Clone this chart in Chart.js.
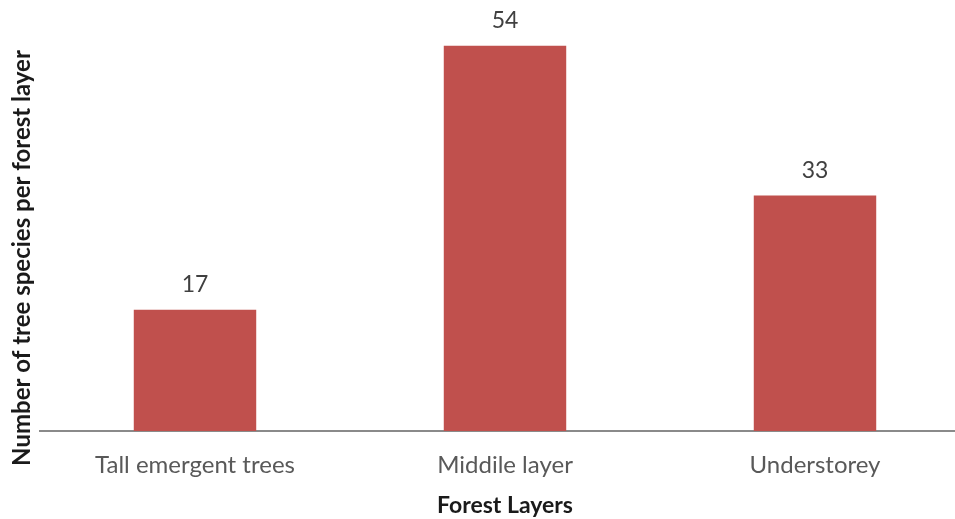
<!DOCTYPE html>
<html>
<head>
<meta charset="utf-8">
<script src="https://cdn.jsdelivr.net/npm/chart.js@4.4.1/dist/chart.umd.min.js"></script>
<style>
  html, body { margin: 0; padding: 0; background: #fff; overflow: hidden; }
  #wrap { width: 970px; height: 519px; }
</style>
</head>
<body>
<div id="wrap"><canvas id="c" width="970" height="519"></canvas></div>
<script>
// Tree species counted in each forest layer
const layers = ['Tall emergent trees', 'Middile layer', 'Understorey'];
const speciesCounts = [17, 54, 33];
const yAxisTitle = 'Number of tree species per forest layer';
const xAxisTitle = 'Forest Layers';

const FONT = 'Lato, "Open Sans", sans-serif';

// Value labels above each bar
const valueLabels = {
  id: 'valueLabels',
  afterDatasetsDraw(chart) {
    const ctx = chart.ctx;
    const meta = chart.getDatasetMeta(0);
    ctx.save();
    ctx.font = '23px ' + FONT;
    ctx.fillStyle = '#404040';
    ctx.textAlign = 'center';
    ctx.textBaseline = 'middle';
    meta.data.forEach((bar, i) => {
      ctx.fillText(String(speciesCounts[i]), bar.x, bar.y - 25);
    });
    ctx.restore();
  }
};

// Rotated y-axis title on the left
const yTitle = {
  id: 'yTitle',
  afterDraw(chart) {
    const ctx = chart.ctx;
    ctx.save();
    ctx.translate(22, 258);
    ctx.rotate(-Math.PI / 2);
    ctx.font = 'bold 24px ' + FONT;
    ctx.fillStyle = '#1a1a1a';
    ctx.textAlign = 'center';
    ctx.textBaseline = 'middle';
    ctx.fillText(yAxisTitle, 0, 0);
    ctx.restore();
  }
};

new Chart(document.getElementById('c'), {
  type: 'bar',
  data: {
    labels: layers,
    datasets: [{
      data: speciesCounts,
      backgroundColor: '#C0504D',
      borderWidth: 0,
      categoryPercentage: 1,
      barPercentage: 0.395
    }]
  },
  options: {
    responsive: false,
    animation: false,
    layout: { padding: { left: 40, top: 3, right: 0, bottom: 0 } },
    plugins: { legend: { display: false }, tooltip: { enabled: false } },
    scales: {
      x: {
        grid: { display: false, drawTicks: false },
        border: { display: true, color: '#8a8a8a', width: 2 },
        ticks: { color: '#595959', font: { family: FONT, size: 24 }, padding: 20 },
        title: {
          display: true, text: xAxisTitle, color: '#1a1a1a',
          font: { family: FONT, size: 23, weight: 'bold' },
          padding: { top: 0, bottom: 0 }
        },
        afterFit(scale) { scale.height = 88; }
      },
      y: {
        display: false,
        min: 0,
        max: 60
      }
    }
  },
  plugins: [valueLabels, yTitle]
});
</script>
</body>
</html>
